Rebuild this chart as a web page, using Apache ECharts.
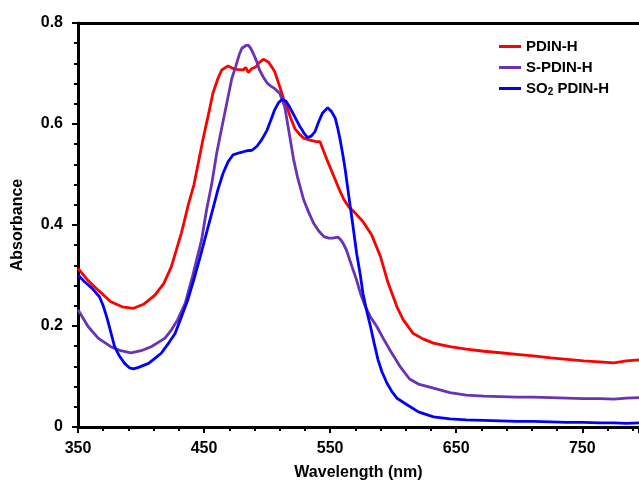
<!DOCTYPE html>
<html>
<head>
<meta charset="utf-8">
<title>Absorbance</title>
<script src="https://cdn.jsdelivr.net/npm/echarts@6.0.0/dist/echarts.min.js"></script>
<style>
  html, body { margin: 0; padding: 0; background: #fff; }
  #echart1 { width: 639px; height: 487px; }
</style>
</head>
<body>
<div id="echart1"></div>
<script>
var seriesNames = ['PDIN-H', 'S-PDIN-H', 'SO2 PDIN-H'];
var seriesColors = ['#ff0000', '#6a32b4', '#0000ff'];
var yTicks = [0, 0.2, 0.4, 0.6, 0.8];
var xTicks = [350, 450, 550, 650, 750];

// PDIN-H
var redWl = [350,358,366,376,385,394,402,411,418,424,432,438,442,449,454,457,461,464,469,473,476,481,483,485,488,491,494,497,501,504,506,510,513,516,519,522,526,529,534,539,542,545,549,553,558,561,565,569,576,583,590,596,603,608,616,624,632,645,658,672,685,698,711,725,738,751,764,775,785,795];
var redAbs = [0.314,0.290,0.271,0.248,0.238,0.235,0.243,0.261,0.284,0.317,0.384,0.445,0.480,0.568,0.625,0.661,0.690,0.707,0.715,0.710,0.708,0.707,0.712,0.702,0.710,0.713,0.722,0.728,0.723,0.712,0.704,0.674,0.650,0.631,0.610,0.591,0.579,0.572,0.568,0.565,0.565,0.545,0.520,0.496,0.466,0.450,0.435,0.426,0.407,0.380,0.337,0.285,0.238,0.212,0.185,0.174,0.166,0.159,0.154,0.150,0.147,0.144,0.141,0.137,0.134,0.131,0.129,0.127,0.131,0.133];

// S-PDIN-H
var purpleWl = [350,358,366,376,384,392,400,408,414,419,424,429,435,441,448,452,456,460,464,468,472,475,478,480,483,485,487,489,492,494,497,500,503,506,510,514,518,521,524,529,533,537,541,545,549,552,556,558,560,563,567,571,574,578,582,587,592,598,606,613,620,632,645,658,672,685,698,711,725,738,751,764,775,785,795];
var purpleAbs = [0.232,0.199,0.176,0.159,0.151,0.147,0.151,0.159,0.168,0.176,0.192,0.212,0.245,0.300,0.370,0.430,0.480,0.542,0.592,0.641,0.690,0.713,0.738,0.750,0.755,0.756,0.750,0.740,0.722,0.707,0.693,0.681,0.675,0.670,0.661,0.634,0.575,0.530,0.496,0.450,0.425,0.403,0.388,0.377,0.374,0.374,0.376,0.372,0.365,0.350,0.320,0.291,0.265,0.238,0.218,0.199,0.176,0.150,0.118,0.095,0.085,0.077,0.068,0.063,0.061,0.060,0.059,0.059,0.058,0.057,0.056,0.056,0.055,0.057,0.058];

// SO2 PDIN-H
var blueWl = [350,355,361,367,370,373,376,379,383,387,391,394,398,402,406,411,416,421,427,432,437,442,447,452,457,461,465,469,473,478,484,488,492,496,500,503,506,509,512,515,518,522,526,529,532,535,538,541,544,548,551,554,556,558,560,562,564,566,568,571,574,576,579,582,585,588,591,595,599,603,611,620,632,645,658,672,685,698,711,725,738,751,764,775,785,795];
var blueAbs = [0.301,0.288,0.275,0.258,0.240,0.216,0.188,0.159,0.140,0.126,0.117,0.115,0.118,0.122,0.126,0.136,0.146,0.163,0.185,0.218,0.251,0.293,0.338,0.385,0.432,0.470,0.502,0.525,0.539,0.543,0.547,0.548,0.556,0.570,0.588,0.608,0.628,0.642,0.649,0.645,0.633,0.614,0.595,0.583,0.573,0.576,0.585,0.605,0.622,0.632,0.625,0.612,0.592,0.568,0.540,0.509,0.472,0.436,0.400,0.344,0.300,0.265,0.230,0.199,0.165,0.133,0.110,0.087,0.070,0.057,0.044,0.030,0.020,0.016,0.014,0.013,0.012,0.011,0.011,0.010,0.009,0.009,0.008,0.008,0.007,0.008];

function zip(xs, ys) {
    var out = [];
    for (var i = 0; i < xs.length; i++) {
        out.push([xs[i], ys[i]]);
    }
    return out;
}

var lineData = [zip(redWl, redAbs), zip(purpleWl, purpleAbs), zip(blueWl, blueAbs)];
var font = 'Arial, "Liberation Sans", sans-serif';

initEchart('echart1');

function initEchart(domId) {
    var myChart = echarts.init(document.getElementById(domId));
    var series = [];
    for (var i = 0; i < seriesNames.length; i++) {
        series.push({
            name: seriesNames[i],
            type: 'line',
            symbol: 'none',
            smooth: false,
            color: seriesColors[i],
            lineStyle: { color: seriesColors[i], width: 2.8 },
            data: lineData[i]
        });
    }
    var option = {
        backgroundColor: '#fff',
        animation: false,
        grid: {
            left: 78,
            right: 0,
            top: 23,
            bottom: 60
        },
        legend: {
            orient: 'vertical',
            left: 494,
            top: 34,
            itemWidth: 22,
            itemHeight: 3,
            itemGap: 6,
            icon: 'rect',
            data: seriesNames,
            textStyle: {
                fontFamily: font,
                fontWeight: 'bold',
                fontSize: 15,
                color: '#000',
                rich: {
                    a: { fontFamily: font, fontWeight: 'bold', fontSize: 15, color: '#000' },
                    s: { fontFamily: font, fontWeight: 'bold', fontSize: 10, color: '#000', padding: [8, 0, 0, 0] }
                }
            },
            formatter: function (name) {
                if (name === 'SO2 PDIN-H') {
                    return '{a|SO}{s|2}{a| PDIN-H}';
                }
                return name;
            }
        },
        xAxis: [{
            type: 'value',
            min: 350,
            max: 795,
            interval: 100,
            name: 'Wavelength (nm)',
            nameLocation: 'middle',
            nameGap: 38,
            nameTextStyle: { fontFamily: font, fontWeight: 'bold', fontSize: 16, color: '#000' },
            axisLine: { show: true, lineStyle: { color: '#000', width: 3 } },
            axisTick: { show: true, inside: false, length: 6, lineStyle: { color: '#000', width: 2 } },
            minorTick: { show: true, splitNumber: 5, length: 4, lineStyle: { color: '#000', width: 2 } },
            splitLine: { show: false },
            axisLabel: {
                margin: 14,
                showMaxLabel: false,
                fontFamily: font,
                fontWeight: 'bold',
                fontSize: 16,
                color: '#000',
                formatter: function (v) {
                    return xTicks.indexOf(v) >= 0 ? String(v) : '';
                }
            }
        }, {
            // top frame line only
            type: 'value',
            position: 'top',
            min: 350,
            max: 795,
            axisLine: { show: true, lineStyle: { color: '#000', width: 3 } },
            axisTick: { show: false },
            axisLabel: { show: false },
            splitLine: { show: false }
        }],
        yAxis: {
            type: 'value',
            min: 0,
            max: 0.8,
            interval: 0.2,
            name: 'Absorbance',
            nameLocation: 'middle',
            nameGap: 52,
            nameTextStyle: { fontFamily: font, fontWeight: 'bold', fontSize: 16, color: '#000' },
            axisLine: { show: true, lineStyle: { color: '#000', width: 3 } },
            axisTick: { show: true, inside: false, length: 6, lineStyle: { color: '#000', width: 2 } },
            minorTick: { show: true, splitNumber: 5, length: 4, lineStyle: { color: '#000', width: 2 } },
            splitLine: { show: false },
            axisLabel: {
                margin: 15,
                fontFamily: font,
                fontWeight: 'bold',
                fontSize: 16,
                color: '#000',
                formatter: function (v) {
                    for (var k = 0; k < yTicks.length; k++) {
                        if (Math.abs(yTicks[k] - v) < 1e-6) {
                            return v === 0 ? '0' : v.toFixed(1);
                        }
                    }
                    return '';
                }
            }
        },
        series: series
    };
    myChart.setOption(option);
}
</script>
</body>
</html>
